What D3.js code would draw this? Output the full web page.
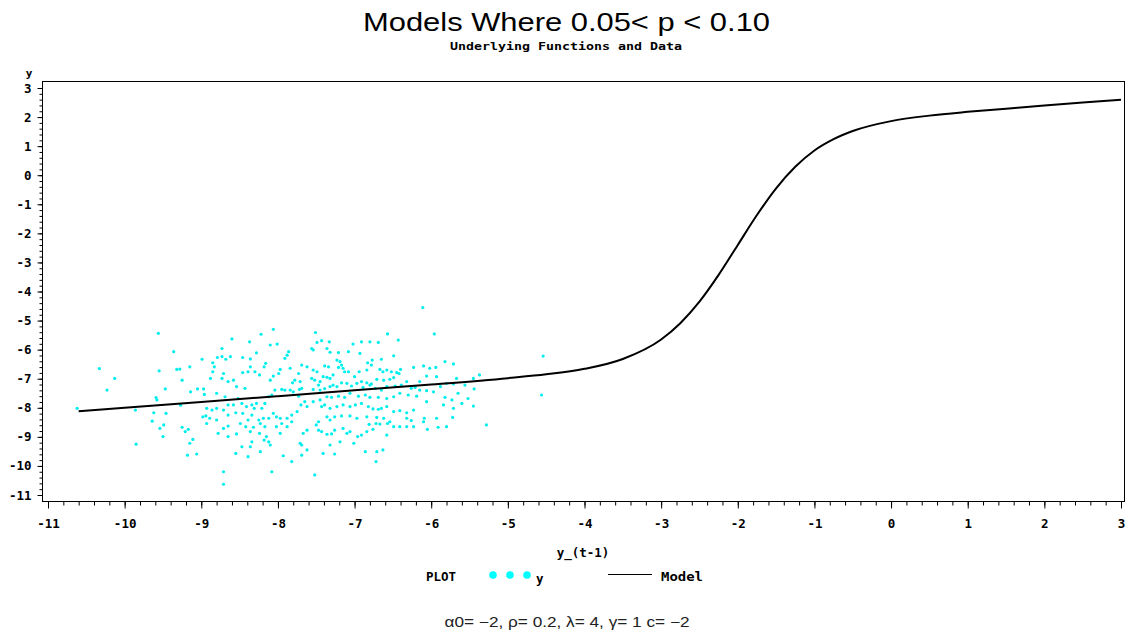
<!DOCTYPE html>
<html><head><meta charset="utf-8">
<script src="https://cdn.jsdelivr.net/npm/d3@7"></script>
<style>body{margin:0;background:#fff}svg{display:block}</style>
</head><body><svg id="c" width="1128" height="632"></svg>
<script>
const titleText = "Models Where 0.05<  p  < 0.10";
const subtitleText = "Underlying Functions and Data";
const xLabel = "y_(t-1)";
const yLabel = "y";
const footnote = "\u03B10= \u22122, \u03C1= 0.2, \u03BB= 4, \u03B3= 1 c= \u22122";
const xTickValues = [-11,-10,-9,-8,-7,-6,-5,-4,-3,-2,-1,0,1,2,3];
const yTickValues = [3,2,1,0,-1,-2,-3,-4,-5,-6,-7,-8,-9,-10,-11];

// Model curve
const modelX = [-10.6,-10,-9,-8,-7,-6,-5,-4.5,-4,-3.5,-3,-2.75,-2.5,-2.25,-2,-1.75,-1.5,-1.25,-1,-0.75,-0.5,0,0.5,1,1.5,2,2.5,3];
const modelY = [-8.12,-8.0,-7.8,-7.6,-7.4,-7.2,-6.98,-6.85,-6.66,-6.32,-5.65,-5.09,-4.35,-3.43,-2.4,-1.37,-0.45,0.29,0.85,1.24,1.52,1.86,2.05,2.18,2.29,2.4,2.5,2.6];

// Observed data points (y_(t-1), y)
const obsPoints = [
[-10.62,-8.02],[-9.56,-5.44],[-10.33,-6.65],[-10.13,-6.99],[-10.23,-7.39],[-9.36,-6.07],[-9.55,-6.73],[-9.32,-6.68],[-9.28,-6.67],[-9.25,-7.05],
[-9.47,-7.35],[-9.59,-7.65],[-9.58,-7.73],[-9.86,-8.08],[-9.62,-8.17],[-9.64,-8.46],[-9.46,-8.19],[-9.49,-8.59],[-9.54,-8.71],[-9.50,-8.99],
[-9.85,-9.25],[-9.18,-9.63],[-9.06,-9.59],[-9.15,-9.22],[-9.11,-9.09],[-9.25,-8.67],[-9.21,-8.82],[-9.17,-8.74],[-9.27,-7.91],[-9.14,-7.45],
[-9.05,-7.35],[-8.97,-7.35],[-8.96,-7.54],[-8.99,-6.33],[-9.15,-6.59],[-8.85,-6.45],[-8.83,-6.59],[-8.79,-6.27],[-8.73,-5.96],[-8.73,-6.24],
[-8.68,-6.33],[-8.62,-6.24],[-8.60,-5.63],[-8.46,-6.27],[-8.37,-5.73],[-8.36,-6.32],[-8.22,-5.47],[-8.06,-5.30],[-8.01,-5.81],[-8.10,-5.84],
[-8.28,-6.11],[-7.86,-6.07],[-7.88,-6.19],[-7.91,-6.30],[-7.84,-6.64],[-7.97,-6.68],[-7.99,-6.82],[-8.06,-6.91],[-8.10,-7.05],[-8.16,-6.47],
[-8.18,-6.59],[-8.24,-6.87],[-8.30,-6.76],[-8.36,-6.59],[-8.39,-6.76],[-8.46,-6.79],[-8.43,-7.33],[-8.54,-7.27],[-8.58,-7.05],[-8.65,-7.10],
[-8.71,-6.82],[-8.85,-6.76],[-8.88,-6.99],[-8.73,-6.99],[-8.80,-7.50],[-8.69,-7.62],[-8.65,-7.90],[-8.58,-7.90],[-8.52,-7.68],[-8.47,-7.85],
[-8.41,-7.96],[-8.34,-7.90],[-8.31,-8.02],[-8.28,-7.85],[-8.21,-8.02],[-8.17,-7.85],[-8.12,-7.62],[-8.08,-7.56],[-8.04,-7.39],[-7.95,-7.37],
[-7.91,-7.39],[-7.84,-7.39],[-7.80,-7.45],[-7.72,-7.37],[-7.73,-7.60],[-7.70,-7.90],[-7.65,-7.79],[-7.62,-7.96],[-7.75,-8.13],[-7.82,-8.25],
[-7.88,-8.36],[-7.97,-8.36],[-8.02,-8.31],[-8.06,-8.19],[-8.12,-8.36],[-8.19,-8.36],[-8.25,-8.42],[-8.34,-8.25],[-8.39,-8.42],[-8.46,-8.19],
[-8.55,-8.17],[-8.65,-8.25],[-8.71,-8.08],[-8.80,-8.02],[-8.86,-8.08],[-8.93,-8.02],[-8.94,-8.28],[-8.98,-8.31],[-8.93,-8.54],[-8.89,-8.36],
[-8.80,-8.42],[-8.65,-8.63],[-8.71,-8.71],[-8.78,-8.88],[-8.65,-8.99],[-8.54,-8.90],[-8.49,-8.54],[-8.42,-8.65],[-8.36,-8.82],[-8.32,-8.67],
[-8.24,-8.88],[-8.23,-8.54],[-8.17,-8.65],[-8.15,-8.99],[-8.12,-9.17],[-8.18,-9.11],[-8.10,-9.28],[-8.02,-8.65],[-7.97,-8.88],[-7.95,-8.54],
[-7.88,-8.65],[-7.82,-8.48],[-7.71,-9.22],[-7.69,-9.28],[-7.67,-8.88],[-7.62,-8.77],[-8.34,-9.17],[-8.36,-9.34],[-8.39,-9.68],[-8.55,-9.57],
[-8.47,-9.34],[-8.23,-9.51],[-7.93,-9.65],[-7.82,-9.85],[-7.69,-9.63],[-8.08,-10.20],[-8.71,-10.20],[-8.71,-10.63],[-7.62,-9.45],[-7.73,-6.82],
[-7.69,-6.53],[-7.62,-6.59],[-7.78,-7.05],[-7.81,-7.14],[-7.71,-7.10],[-7.69,-7.33],
[-6.11,-4.55],[-5.96,-5.46],[-7.51,-5.41],[-6.57,-5.46],[-6.43,-5.67],[-7.43,-5.69],[-7.33,-5.73],[-7.49,-5.75],[-7.56,-5.96],[-7.54,-6.01],
[-7.36,-5.96],[-7.32,-6.09],[-7.21,-6.10],[-7.08,-6.07],[-7.02,-5.81],[-6.91,-5.73],[-6.80,-5.73],[-6.69,-5.75],[-6.93,-6.13],[-6.49,-6.21],
[-6.65,-6.33],[-6.77,-6.36],[-6.83,-6.45],[-6.78,-6.53],[-7.23,-6.36],[-7.19,-6.41],[-7.17,-6.53],[-7.21,-6.61],[-7.15,-6.64],[-7.13,-6.76],
[-7.39,-6.56],[-7.34,-6.59],[-7.54,-6.70],[-7.49,-6.76],[-7.41,-6.93],[-7.36,-6.95],[-7.32,-6.99],[-7.45,-7.10],[-7.52,-7.05],[-7.56,-6.99],
[-7.28,-6.87],[-7.08,-6.76],[-7.00,-6.93],[-6.94,-6.76],[-6.84,-6.70],[-6.67,-6.68],[-6.63,-6.76],[-6.58,-6.70],[-6.52,-6.76],[-6.45,-6.79],
[-6.40,-6.68],[-6.42,-6.82],[-6.49,-6.96],[-6.54,-7.02],[-6.62,-7.05],[-6.71,-7.02],[-6.78,-7.18],[-6.84,-7.14],[-6.91,-7.10],[-6.97,-7.16],
[-7.04,-7.25],[-7.10,-7.16],[-7.17,-7.14],[-7.23,-7.27],[-7.28,-7.22],[-7.32,-7.27],[-7.39,-7.34],[-7.45,-7.39],[-7.47,-7.22],[-7.54,-7.37],
[-6.89,-7.30],[-6.80,-7.22],[-6.73,-7.33],[-6.65,-7.39],[-6.58,-7.27],[-6.47,-7.25],[-6.39,-7.22],[-6.32,-7.10],[-6.26,-7.33],[-6.21,-7.30],
[-6.15,-7.10],[-6.06,-6.91],[-5.94,-6.61],[-6.02,-6.64],[-6.10,-6.56],[-6.23,-6.61],[-5.82,-6.41],[-5.71,-6.49],[-5.93,-6.93],[-5.67,-6.99],
[-5.45,-6.99],[-5.37,-6.87],[-5.44,-7.35],[-5.56,-7.22],[-5.71,-7.18],[-5.80,-7.16],[-5.88,-7.27],[-5.97,-7.45],[-6.06,-7.41],[-6.15,-7.39],
[-6.19,-7.60],[-6.30,-7.56],[-6.41,-7.50],[-6.49,-7.62],[-6.58,-7.68],[-6.69,-7.64],[-6.80,-7.64],[-6.86,-7.56],[-6.95,-7.60],[-7.06,-7.50],
[-7.13,-7.64],[-7.21,-7.60],[-7.30,-7.64],[-7.36,-7.62],[-7.45,-7.73],[-7.54,-7.79],[-7.43,-7.96],[-7.39,-7.90],[-7.32,-8.02],[-7.23,-7.96],
[-7.15,-7.90],[-7.06,-7.96],[-6.99,-7.90],[-6.91,-7.85],[-6.82,-7.96],[-6.76,-8.04],[-6.69,-8.05],[-6.65,-8.02],[-6.58,-7.96],[-6.49,-8.13],
[-6.41,-8.10],[-6.32,-8.17],[-6.23,-8.08],[-6.06,-7.79],[-5.84,-7.90],[-5.82,-7.64],[-5.73,-7.73],[-5.65,-7.50],[-5.60,-7.85],[-5.52,-7.68],
[-5.45,-7.94],[-5.71,-8.02],[-5.72,-8.33],[-5.93,-8.36],[-6.09,-8.36],[-6.10,-8.48],[-6.26,-8.44],[-6.32,-8.36],[-6.41,-8.65],[-6.54,-8.48],
[-6.62,-8.36],[-6.71,-8.33],[-6.84,-8.31],[-6.97,-8.36],[-7.06,-8.28],[-7.17,-8.28],[-7.26,-8.31],[-7.32,-8.42],[-7.36,-8.31],[-7.47,-8.48],
[-7.50,-8.59],[-7.47,-8.77],[-7.43,-8.82],[-7.36,-8.91],[-7.30,-8.90],[-7.26,-8.77],[-7.15,-8.71],[-7.10,-8.88],[-7.06,-8.82],[-6.96,-8.99],
[-6.91,-8.94],[-6.84,-8.82],[-6.81,-8.57],[-6.72,-8.54],[-6.67,-8.56],[-6.57,-8.54],[-6.49,-8.65],[-6.58,-8.94],[-6.76,-8.74],[-7.01,-9.22],
[-7.19,-9.17],[-7.32,-9.28],[-7.41,-9.57],[-7.26,-9.59],[-6.86,-9.51],[-6.71,-9.51],[-6.63,-9.45],[-6.72,-9.85],[-7.52,-10.31],[-6.32,-8.65],
[-6.23,-8.65],[-6.05,-8.74],[-5.91,-8.67],[-5.80,-8.65],[-5.28,-8.59],[-4.54,-6.22],[-4.56,-7.56]
];

const svg = d3.select("#c");
const frame = {left: 42, right: 1124, top: 81, bottom: 501};
const x = d3.scaleLinear().domain([-11, 3]).range([48, 1121]);
const y = d3.scaleLinear().domain([3, -11]).range([88, 495]);

const obsColor = "#00eeee";
const monoFont = "'DejaVu Sans Mono', monospace";
const sansFont = "'Liberation Sans', Arial, sans-serif";

// Title
svg.append("text").attr("x", 566.5).attr("y", 31).attr("text-anchor", "middle")
  .attr("font-family", sansFont).attr("font-size", 26)
  .attr("textLength", 407).attr("lengthAdjust", "spacingAndGlyphs")
  .attr("fill", "#000").text(titleText);
svg.append("text").attr("x", 566).attr("y", 50).attr("text-anchor", "middle")
  .attr("font-family", monoFont).attr("font-weight", "bold").attr("font-size", 11)
  .attr("textLength", 232).attr("lengthAdjust", "spacingAndGlyphs")
  .attr("fill", "#000").text(subtitleText);

// Frame
svg.append("rect").attr("x", frame.left + 0.5).attr("y", frame.top + 0.5)
  .attr("width", frame.right - frame.left).attr("height", frame.bottom - frame.top)
  .attr("fill", "none").attr("stroke", "#000").attr("stroke-width", 1);

// X axis
const fmt = d => String(d);
const xMinor = d3.range(-11, 3.0001, 0.2).map(v => Math.round(v * 10) / 10);
const gxMinor = svg.append("g").attr("transform", `translate(0,${frame.bottom + 0.5})`)
  .call(d3.axisBottom(x).tickValues(xMinor).tickSize(4).tickFormat(""));
const gx = svg.append("g").attr("transform", `translate(0,${frame.bottom + 0.5})`)
  .call(d3.axisBottom(x).tickValues(xTickValues).tickSize(7).tickPadding(11).tickFormat(fmt));
[gx, gxMinor].forEach(g => { g.select(".domain").remove(); g.selectAll("line").attr("stroke", "#000"); });
gx.selectAll("text").attr("font-family", monoFont).attr("font-weight", "bold")
  .attr("font-size", 12.5).attr("fill", "#000");

// Y axis
const yMinor = d3.range(-11, 3.0001, 0.2).map(v => Math.round(v * 10) / 10);
const gyMinor = svg.append("g").attr("transform", `translate(${frame.left + 0.5},0)`)
  .call(d3.axisLeft(y).tickValues(yMinor).tickSize(3).tickFormat(""));
const gy = svg.append("g").attr("transform", `translate(${frame.left + 0.5},0)`)
  .call(d3.axisLeft(y).tickValues(yTickValues).tickSize(5).tickPadding(6).tickFormat(fmt));
[gy, gyMinor].forEach(g => { g.select(".domain").remove(); g.selectAll("line").attr("stroke", "#000"); });
gy.selectAll("text").attr("font-family", monoFont).attr("font-weight", "bold")
  .attr("font-size", 12.5).attr("fill", "#000");

// Axis labels
svg.append("text").attr("x", 29).attr("y", 77).attr("text-anchor", "middle")
  .attr("font-family", monoFont).attr("font-weight", "bold").attr("font-size", 11)
  .text(yLabel);
svg.append("text").attr("x", 583).attr("y", 557).attr("text-anchor", "middle")
  .attr("font-family", monoFont).attr("font-weight", "bold").attr("font-size", 12.5)
  .text(xLabel);

// Data points
svg.append("g").selectAll("circle").data(obsPoints).join("circle")
  .attr("cx", d => x(d[0])).attr("cy", d => y(d[1])).attr("r", 1.6)
  .attr("fill", obsColor);

// Model line
const modelData = modelX.map((v, i) => [v, modelY[i]]);
svg.append("path").datum(modelData)
  .attr("d", d3.line().x(d => x(d[0])).y(d => y(d[1])).curve(d3.curveMonotoneX))
  .attr("fill", "none").attr("stroke", "#000").attr("stroke-width", 2);

// Legend
const leg = svg.append("g");
leg.append("text").attr("x", 426).attr("y", 581).attr("font-family", monoFont)
  .attr("font-weight", "bold").attr("font-size", 12.5).text("PLOT");
[493, 510, 527].forEach(cx => leg.append("circle").attr("cx", cx).attr("cy", 575).attr("r", 3.8).attr("fill", "#00ffff"));
leg.append("text").attr("x", 536).attr("y", 583).attr("font-family", monoFont)
  .attr("font-weight", "bold").attr("font-size", 12.5).text(yLabel);
leg.append("line").attr("x1", 608).attr("x2", 652).attr("y1", 574.5).attr("y2", 574.5)
  .attr("stroke", "#000").attr("stroke-width", 1);
leg.append("text").attr("x", 661).attr("y", 581).attr("font-family", monoFont)
  .attr("font-weight", "bold").attr("font-size", 12.5)
  .attr("textLength", 42).attr("lengthAdjust", "spacingAndGlyphs").text("Model");

// Footnote
svg.append("text").attr("x", 567).attr("y", 627).attr("text-anchor", "middle")
  .attr("font-family", sansFont).attr("font-size", 14)
  .attr("textLength", 245).attr("lengthAdjust", "spacingAndGlyphs")
  .attr("fill", "#222").text(footnote);
</script>
</body></html>
